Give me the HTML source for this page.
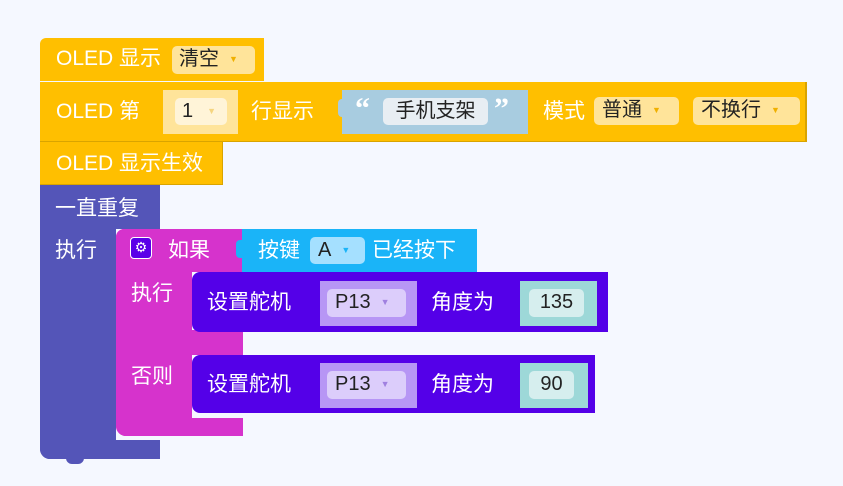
<!DOCTYPE html>
<html><head><meta charset="utf-8"><style>
body{margin:0;width:843px;height:486px;background:#f5f8ff;position:relative;overflow:hidden;font-family:"Liberation Sans","Noto Sans CJK SC",sans-serif;}
div{position:absolute;box-sizing:border-box;}
.t{color:#fff;font-size:21px;line-height:26px;white-space:nowrap;}
.d{color:#222;font-size:20px;line-height:27px;white-space:nowrap;border-radius:5px;}
.y{background:#ffbf00;}
</style></head><body>
<!-- loop -->
<div style="left:40px;top:184px;width:120px;height:45px;background:#5455b8;"></div>
<div style="left:40px;top:184px;width:76px;height:275px;background:#5455b8;border-radius:0 0 0 10px;"></div>
<div style="left:40px;top:440px;width:120px;height:19px;background:#5455b8;border-radius:0 0 0 10px;"></div>
<div style="left:66px;top:458px;width:18px;height:6px;background:#5455b8;border-radius:0 0 6px 6px;"></div>
<div class="t" style="left:55px;top:196px;">一直重复</div>
<div class="t" style="left:55px;top:238px;">执行</div>
<!-- if -->
<div style="left:116px;top:229px;width:127px;height:43px;background:#d633cc;border-radius:8px 0 0 0;"></div>
<div style="left:116px;top:229px;width:76px;height:207px;background:#d633cc;border-radius:8px 0 0 10px;"></div>
<div style="left:116px;top:330px;width:127px;height:25px;background:#d633cc;"></div>
<div style="left:116px;top:418px;width:127px;height:18px;background:#d633cc;border-radius:0 0 0 10px;"></div>
<div style="left:130px;top:237px;width:22px;height:22px;background:#5a00e8;border:1px solid #fff;border-radius:4px;color:#fff;font-size:14px;line-height:19px;text-align:center;">⚙</div>
<div class="t" style="left:168px;top:238px;">如果</div>
<div class="t" style="left:131px;top:281px;">执行</div>
<div class="t" style="left:131px;top:364px;">否则</div>
<!-- condition -->
<div style="left:242px;top:229px;width:235px;height:43px;background:#1ab4f8;"></div>
<div style="left:236px;top:240px;width:8px;height:18px;background:#1ab4f8;border-radius:4px 0 0 4px;"></div>
<div class="t" style="left:258px;top:238px;">按键</div>
<div class="d" style="left:310px;top:237px;width:55px;height:27px;background:#a5e0ff;padding-left:8px;">A<span style="font-size:9px;color:#1ab4f8;margin-left:10px;vertical-align:middle">▼</span></div>
<div class="t" style="left:372px;top:238px;">已经按下</div>
<!-- servo 1 -->
<div style="left:192px;top:272px;width:416px;height:60px;background:#5400e8;border-radius:8px 0 0 8px;"></div>
<div class="t" style="left:207px;top:290px;">设置舵机</div>
<div style="left:320px;top:281px;width:97px;height:45px;background:#b796f5;"></div>
<div class="d" style="left:327px;top:289px;width:79px;height:28px;background:#dccdfb;padding-left:8px;">P13<span style="font-size:9px;color:#a080e0;margin-left:10px;vertical-align:middle">▼</span></div>
<div class="t" style="left:431px;top:290px;">角度为</div>
<div style="left:520px;top:281px;width:77px;height:45px;background:#9dd8d8;"></div>
<div class="d" style="left:529px;top:289px;width:55px;height:28px;background:#d6eeee;text-align:center;">135</div>
<!-- servo 2 -->
<div style="left:192px;top:355px;width:403px;height:58px;background:#5400e8;border-radius:8px 0 0 8px;"></div>
<div class="t" style="left:207px;top:372px;">设置舵机</div>
<div style="left:320px;top:363px;width:97px;height:45px;background:#b796f5;"></div>
<div class="d" style="left:327px;top:371px;width:79px;height:28px;background:#dccdfb;padding-left:8px;">P13<span style="font-size:9px;color:#a080e0;margin-left:10px;vertical-align:middle">▼</span></div>
<div class="t" style="left:431px;top:372px;">角度为</div>
<div style="left:520px;top:363px;width:68px;height:45px;background:#9dd8d8;"></div>
<div class="d" style="left:529px;top:371px;width:45px;height:28px;background:#d6eeee;text-align:center;">90</div>
<!-- OLED blocks -->
<div class="y" style="left:40px;top:38px;width:224px;height:43px;border-radius:6px 0 0 0;"></div>
<div class="t" style="left:56px;top:46px;">OLED 显示</div>
<div class="d" style="left:172px;top:46px;width:83px;height:28px;background:#ffe49a;padding-left:7px;">清空<span style="font-size:9px;color:#f0b000;margin-left:10px;vertical-align:middle">▼</span></div>
<div class="y" style="left:40px;top:82px;width:767px;height:60px;border-bottom:1px solid #d9a400;border-right:2px solid #d9a400;"></div>
<div class="t" style="left:56px;top:99px;">OLED 第</div>
<div style="left:163px;top:90px;width:75px;height:44px;background:#ffe49a;"></div>
<div class="d" style="left:175px;top:98px;width:52px;height:27px;background:#fff4d8;padding-left:7px;">1<span style="font-size:9px;color:#f5d580;margin-left:14px;vertical-align:middle">▼</span></div>
<div class="t" style="left:251px;top:99px;">行显示</div>
<div style="left:342px;top:90px;width:186px;height:44px;background:#a8cce0;"></div>
<div style="left:338px;top:99px;width:6px;height:18px;background:#a8cce0;border-radius:4px 0 0 4px;"></div>
<div class="t" style="left:355px;top:94px;font-weight:bold;font-size:30px;line-height:30px;font-family:'Liberation Serif',serif;">“</div>
<div class="d" style="left:383px;top:98px;width:105px;height:27px;background:#e8eef3;text-align:center;">手机支架</div>
<div class="t" style="left:494px;top:94px;font-weight:bold;font-size:30px;line-height:30px;font-family:'Liberation Serif',serif;">”</div>
<div class="t" style="left:543px;top:99px;">模式</div>
<div class="d" style="left:594px;top:97px;width:85px;height:28px;background:#ffe49a;padding-left:8px;">普通<span style="font-size:9px;color:#f0b000;margin-left:10px;vertical-align:middle">▼</span></div>
<div class="d" style="left:693px;top:97px;width:107px;height:28px;background:#ffe49a;padding-left:8px;">不换行<span style="font-size:9px;color:#f0b000;margin-left:10px;vertical-align:middle">▼</span></div>
<div class="y" style="left:40px;top:142px;width:183px;height:43px;border-bottom:1px solid #d9a400;border-right:1px solid #d9a400;"></div>
<div class="t" style="left:56px;top:151px;">OLED 显示生效</div>
</body></html>
